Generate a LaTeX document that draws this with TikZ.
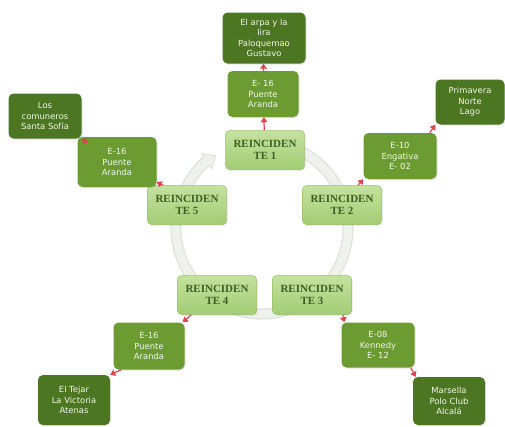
\documentclass[tikz,border=0pt]{standalone}
\usepackage{fontspec}
\setmainfont{Liberation Serif}
\newfontfamily\boxfont{DejaVu Sans}
\usetikzlibrary{arrows.meta,shadows}
\definecolor{midgreen}{HTML}{6C9C31}
\definecolor{darkgreen}{HTML}{4D7622}
\definecolor{lighttop}{HTML}{C4E29F}
\definecolor{lightbot}{HTML}{A3CC74}
\definecolor{lightedge}{HTML}{96C064}
\definecolor{retext}{HTML}{3D5F20}
\definecolor{boxtext}{HTML}{F2F6EA}
\definecolor{ringedge}{HTML}{DCE2D8}
\definecolor{ringcol}{HTML}{EFF2EC}
\definecolor{arrred}{HTML}{DE4450}
\begin{document}
\begin{tikzpicture}[x=1pt,y=-1pt,
  gbox/.style={rounded corners=5pt, inner sep=0pt, align=center,
    font=\boxfont\fontsize{8.4}{10.5}\selectfont, text=boxtext,
    drop shadow={opacity=0.2, shadow xshift=1pt, shadow yshift=-1pt}},
  midbox/.style={gbox, fill=midgreen},
  darkbox/.style={gbox, fill=darkgreen},
  rebox/.style={rounded corners=4pt, inner sep=0pt, align=center,
    minimum width=79pt, minimum height=39pt,
    top color=lighttop, bottom color=lightbot, draw=lightedge, line width=0.5pt,
    font=\bfseries\fontsize{11}{12.5}\selectfont, text=retext,
    drop shadow={opacity=0.2, shadow xshift=1pt, shadow yshift=-1pt}},
  ringout/.style={draw=ringedge, line width=11pt, -{Triangle[width=19pt,length=12pt]}},
  ringin/.style={draw=ringcol, line width=8.5pt, shorten >=1.8pt, -{Triangle[width=15pt,length=9pt]}},
  arr/.style={draw=arrred, line width=1.2pt, -{Triangle[length=5pt,width=6.5pt]}}
]
\useasboundingbox[fill=white] (0,0) rectangle (505,426);

% background cycle ring
\coordinate (ringc) at (262,228);
\draw[ringout] (ringc) ++(-70:86) arc[start angle=-70, end angle=238, radius=86];
\draw[ringin] (ringc) ++(-70:86) arc[start angle=-70, end angle=238, radius=86];

% centre boxes
\node[rebox] (re1) at (265,150) {REINCIDEN\\TE 1};
\node[rebox] (re2) at (342,205) {REINCIDEN\\TE 2};
\node[rebox] (re3) at (312,295) {REINCIDEN\\TE 3};
\node[rebox] (re4) at (217,295) {REINCIDEN\\TE 4};
\node[rebox] (re5) at (187,205) {REINCIDEN\\TE 5};

% outer boxes
\node[darkbox, minimum width=83pt, minimum height=51pt] (arpa) at (264,38) {El arpa y la\\lira\\Paloquemao\\Gustavo};
\node[midbox, minimum width=71pt, minimum height=46pt] (e16t) at (263,94) {E- 16\\Puente\\Aranda};

\node[midbox, minimum width=73pt, minimum height=46pt] (e10) at (400,156) {E-10\\Engativa\\E- 02};
\node[darkbox, minimum width=69pt, minimum height=45pt] (prim) at (470,102) {Primavera\\Norte\\Lago};

\node[midbox, minimum width=79pt, minimum height=50pt] (e16l) at (117,162) {E-16\\Puente\\Aranda};
\node[darkbox, minimum width=73pt, minimum height=45pt] (los) at (45,116) {Los\\comuneros\\Santa Sofía};

\node[midbox, minimum width=71pt, minimum height=47pt] (e16bl) at (149,346) {E-16\\Puente\\Aranda};
\node[darkbox, minimum width=72pt, minimum height=50pt] (tejar) at (74,400) {El Tejar\\La Victoria\\Atenas};

\node[midbox, minimum width=73pt, minimum height=45pt] (e08) at (378,345) {E-08\\Kennedy\\E- 12};
\node[darkbox, minimum width=72pt, minimum height=48pt] (mars) at (449,401) {Marsella\\Polo Club\\Alcalá};

% connectors
\draw[arr] (re1) -- (e16t);
\draw[arr] (e16t) -- (arpa);
\draw[arr] ([xshift=16pt]re2.north) -- (e10.south west);
\draw[arr] ([xshift=-7pt]e10.north east) -- (prim.south west);
\draw[arr] ([xshift=16pt]re5.north west) -- ([yshift=5pt]e16l.south east);
\draw[arr] ([xshift=10pt,yshift=-6pt]e16l.north west) -- (los.south east);
\draw[arr] ([xshift=14pt]re4.south west) -- ([xshift=-2pt]e16bl.north east);
\draw[arr] ([xshift=8pt]e16bl.south west) -- (tejar.north east);
\draw[arr] ([xshift=-9pt]re3.south east) -- ([xshift=3pt]e08.north west);
\draw[arr] ([xshift=-4pt]e08.south east) -- ([xshift=3pt]mars.north west);
\end{tikzpicture}
\end{document}
